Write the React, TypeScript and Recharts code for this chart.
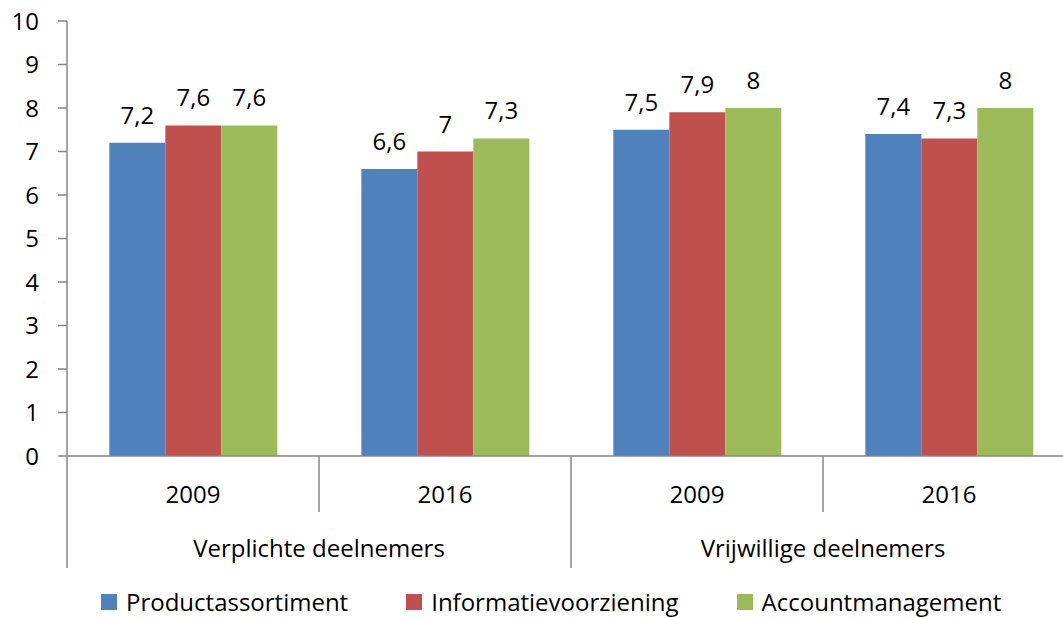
import React from 'react';
import { BarChart, Bar, XAxis, YAxis, Legend, LabelList } from 'recharts';

const groups = ['Verplichte deelnemers', 'Verplichte deelnemers', 'Vrijwillige deelnemers', 'Vrijwillige deelnemers'];
const years = ['2009', '2016', '2009', '2016'];
const productassortiment = [7.2, 6.6, 7.5, 7.4];
const informatievoorziening = [7.6, 7.0, 7.9, 7.3];
const accountmanagement = [7.6, 7.3, 8.0, 8.0];
const yTicks = [0, 1, 2, 3, 4, 5, 6, 7, 8, 9, 10];

const seriesNames = ['Productassortiment', 'Informatievoorziening', 'Accountmanagement'];
const seriesColors = ['#4F81BD', '#C0504D', '#9BBB59'];

const data = years.map((year, i) => ({
  year,
  group: groups[i],
  Productassortiment: productassortiment[i],
  Informatievoorziening: informatievoorziening[i],
  Accountmanagement: accountmanagement[i],
}));

const FONT = "'Open Sans', sans-serif";
const AXIS = '#868686';
const fmt = (v: any) => String(v).replace('.', ',');

const CategoryTick = (props: any) => {
  const { x, y, payload, index, width, visibleTicksCount } = props;
  const band = width / visibleTicksCount;
  const left = x - band / 2;
  const row = data[index];
  const groupStart = index === 0 || data[index - 1].group !== row.group;
  const isLast = index === data.length - 1;
  let count = 0;
  if (groupStart) {
    for (let j = index; j < data.length && data[j].group === row.group; j++) count++;
  }
  return (
    <g>
      <line x1={left} x2={left} y1={y} y2={y + (groupStart ? 112 : 56)} stroke={AXIS} strokeWidth={1.5} />
      {isLast && (
        <line x1={x + band / 2} x2={x + band / 2} y1={y} y2={y + 112} stroke={AXIS} strokeWidth={1.5} />
      )}
      <text x={x} y={y + 47} textAnchor="middle" fill="#000" fontSize={24} fontFamily={FONT}>
        {payload.value}
      </text>
      {groupStart && (
        <text x={left + (count * band) / 2} y={y + 101} textAnchor="middle" fill="#000" fontSize={24} fontFamily={FONT}>
          {row.group}
        </text>
      )}
    </g>
  );
};

const LegendContent = () => (
  <div style={{ display: 'flex', alignItems: 'center', height: 40, paddingLeft: 101, fontFamily: FONT, fontSize: 24, lineHeight: '32px', color: '#000' }}>
    {seriesNames.map((name, i) => (
      <div key={name} style={{ display: 'flex', alignItems: 'center', height: 32, alignSelf: 'flex-start', marginRight: 58 }}>
        <span style={{ display: 'inline-block', width: 16, height: 16, background: seriesColors[i], marginRight: 9 }} />
        <span>{name}</span>
      </div>
    ))}
  </div>
);

export default function App() {
  return (
    <div style={{ position: 'absolute', left: 0, top: 0, width: 1063, height: 618, overflow: 'hidden', background: '#fff', fontFamily: FONT }}>
      <BarChart
        width={1090}
        height={626}
        data={data}
        margin={{ top: 21, right: 15, bottom: 0, left: 0 }}
        barCategoryGap="16.8%"
        barGap={0}
      >
        <XAxis
          dataKey="year"
          interval={0}
          height={130}
          tickLine={false}
          tickSize={0}
          tickMargin={0}
          axisLine={{ stroke: AXIS, strokeWidth: 1.5 }}
          tick={<CategoryTick />}
        />
        <YAxis
          width={67}
          domain={[0, 10]}
          ticks={yTicks}
          interval={0}
          tickSize={9}
          tickMargin={19}
          axisLine={{ stroke: AXIS, strokeWidth: 1.5 }}
          tickLine={{ stroke: AXIS, strokeWidth: 1.5 }}
          tick={{ fill: '#000', fontSize: 24, fontFamily: FONT }}
        />
        <Legend verticalAlign="bottom" wrapperStyle={{ left: 0, width: 1090, height: 40 }} content={<LegendContent />} />
        {seriesNames.map((name, i) => (
          <Bar key={name} dataKey={name} fill={seriesColors[i]} isAnimationActive={false}>
            <LabelList dataKey={name} position="top" offset={19} formatter={fmt} fill="#000" fontSize={24} fontFamily={FONT} />
          </Bar>
        ))}
      </BarChart>
    </div>
  );
}
